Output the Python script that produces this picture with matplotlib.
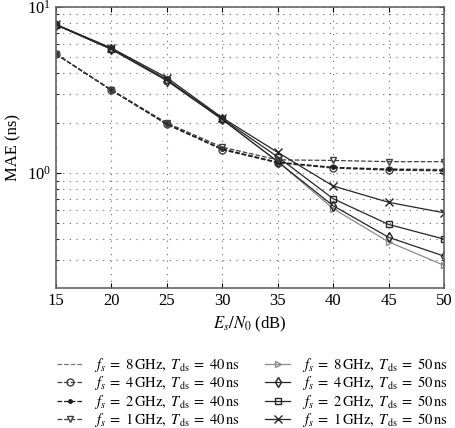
import matplotlib.pyplot as plt
from matplotlib.ticker import LogLocator, NullFormatter

plt.rcParams['font.family'] = ['Liberation Serif', 'DejaVu Serif']
plt.rcParams['mathtext.fontset'] = 'stix'
plt.rcParams['font.size'] = 10

snr = [15, 20, 25, 30, 35, 40, 45, 50]

# T_ds = 40 ns (dashed)
d8 = [5.2, 3.15, 1.97, 1.40, 1.16, 1.08, 1.06, 1.05]
d4 = [5.2, 3.15, 1.96, 1.38, 1.15, 1.07, 1.04, 1.03]
d2 = [5.2, 3.15, 1.97, 1.39, 1.16, 1.08, 1.05, 1.04]
d1 = [5.2, 3.17, 2.00, 1.43, 1.20, 1.19, 1.17, 1.17]

# T_ds = 50 ns (solid)
s8 = [7.8, 5.55, 3.60, 2.10, 1.17, 0.61, 0.385, 0.278]
s4 = [7.8, 5.55, 3.60, 2.10, 1.17, 0.635, 0.41, 0.316]
s2 = [7.8, 5.60, 3.65, 2.12, 1.25, 0.70, 0.49, 0.40]
s1 = [7.85, 5.65, 3.75, 2.15, 1.33, 0.835, 0.666, 0.576]

fig = plt.figure(figsize=(4.55, 4.28), dpi=100)
ax = fig.add_axes([0.123, 0.327, 0.853, 0.657])

lab = r'$f_s\;=\;%d\,\mathrm{GHz},\ T_{\mathrm{ds}}\;=\;%d\,\mathrm{ns}$'
ax.plot(snr, d8, ls='--', color='0.45', lw=0.9, label=lab % (8, 40))
ax.plot(snr, s8, ls='-', color='0.55', lw=0.9, marker='>', mfc='none', ms=5,
        label=lab % (8, 50))
ax.plot(snr, d4, ls='--', color='0.25', lw=0.9, marker='o', mfc='none', ms=5,
        label=lab % (4, 40))
ax.plot(snr, s4, ls='-', color='0.15', lw=0.9, marker='d', mfc='none', ms=5,
        label=lab % (4, 50))
ax.plot(snr, d2, ls='--', color='0.1', lw=0.9, marker='.', ms=5,
        label=lab % (2, 40))
ax.plot(snr, s2, ls='-', color='0.15', lw=0.9, marker='s', mfc='none', ms=4,
        label=lab % (2, 50))
ax.plot(snr, d1, ls='--', color='0.25', lw=0.9, marker='v', mfc='none', ms=5,
        label=lab % (1, 40))
ax.plot(snr, s1, ls='-', color='0.15', lw=0.9, marker='x', ms=6,
        label=lab % (1, 50))

ax.set_yscale('log')
ax.set_xlim(15, 50)
ax.set_ylim(0.203, 10)
ax.set_xticks(snr)
ax.yaxis.set_minor_locator(LogLocator(base=10, subs=range(2, 10)))
ax.yaxis.set_minor_formatter(NullFormatter())
ax.tick_params(which='both', direction='in', top=True, right=True, labelsize=12)
ax.grid(True, which='major', ls=(0, (1, 5)), color='0.4', lw=0.8)
ax.grid(True, which='minor', axis='y', ls=(0, (1, 5)), color='0.4', lw=0.8)
for s in ax.spines.values():
    s.set_color('0.4')
    s.set_linewidth(1.2)

ax.set_xlabel(r'$E_s/N_0$ (dB)', fontsize=12)
ax.set_ylabel('MAE (ns)', fontsize=12)

handles, labels = ax.get_legend_handles_labels()
order = [0, 2, 4, 6, 1, 3, 5, 7]
fig.legend([handles[i] for i in order], [labels[i] for i in order],
           loc='upper center', bbox_to_anchor=(0.555, 0.192), ncol=2,
           frameon=False, fontsize=10.5, handlelength=1.7, handletextpad=0.8,
           columnspacing=1.75, labelspacing=0.02, borderpad=0.2)

fig.savefig('out.png', dpi=100)
